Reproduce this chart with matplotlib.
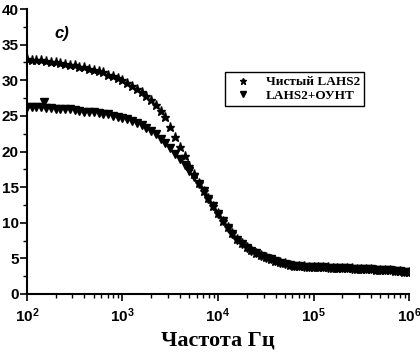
import numpy as np
import matplotlib.pyplot as plt
from matplotlib.ticker import LogLocator, MultipleLocator, NullFormatter

# measurement sweep: 81 log-spaced frequencies, 10^2 .. 10^6 Hz
freq = np.logspace(2, 6, 81)

# permittivity, pure LAHS2
eps_pure = [33.0, 32.9, 32.9, 32.8, 32.7, 32.6, 32.5, 32.4, 32.3, 32.2,
            32.1, 31.9, 31.8, 31.6, 31.5, 31.3, 31.1, 30.8, 30.6, 30.3,
            30.0, 29.6, 29.2, 28.8, 28.3, 27.8, 27.2, 26.5, 25.7, 24.8,
            23.5, 22.1, 20.7, 19.3, 18.0, 16.8, 15.6, 14.5, 13.5, 12.4,
            11.3, 10.3, 9.4, 8.5, 7.7, 7.1, 6.6, 6.2, 5.8, 5.5,
            5.2, 4.9, 4.7, 4.5, 4.3, 4.1, 4.0, 3.95, 3.9, 3.85,
            3.8, 3.8, 3.75, 3.75, 3.7, 3.7, 3.65, 3.6, 3.6, 3.55,
            3.5, 3.5, 3.45, 3.4, 3.4, 3.35, 3.3, 3.25, 3.2, 3.15, 3.1]

# permittivity, LAHS2 + nanotubes
eps_cnt = [26.3, 26.3, 26.2, 26.2, 26.1, 26.1, 26.0, 26.0, 25.9, 25.9,
           25.8, 25.7, 25.6, 25.6, 25.5, 25.4, 25.3, 25.2, 25.0, 24.9,
           24.7, 24.5, 24.3, 24.0, 23.7, 23.3, 22.9, 22.4, 21.8, 21.2,
           20.5, 19.7, 18.9, 18.1, 17.3, 16.4, 15.5, 14.5, 13.4, 12.3,
           11.2, 10.2, 9.3, 8.4, 7.6, 7.0, 6.5, 6.1, 5.7, 5.4,
           5.1, 4.9, 4.6, 4.4, 4.2, 4.1, 4.0, 3.9, 3.85, 3.8,
           3.8, 3.75, 3.75, 3.7, 3.7, 3.65, 3.65, 3.6, 3.55, 3.55,
           3.5, 3.45, 3.45, 3.4, 3.35, 3.3, 3.3, 3.25, 3.2, 3.15, 3.1]

# single stray point of the second series
stray_f = [150]
stray_eps = [26.9]

fig = plt.figure(figsize=(4.2, 3.54), dpi=100)
ax = fig.add_axes([0.064, 0.1695, 0.910, 0.805])

ax.plot(freq, eps_pure, ls='none', marker='*', ms=6.5, color='black',
        label='Чистый LAHS2')
ax.plot(freq, eps_cnt, ls='none', marker='v', ms=5.2, color='black',
        label='LAHS2+ОУНТ')
ax.plot(stray_f, stray_eps, ls='none', marker='v', ms=6, color='black')

ax.set_xscale('log')
ax.set_xlim(100, 1e6)
ax.set_ylim(0, 40)

ax.spines['top'].set_visible(False)
ax.spines['right'].set_visible(False)
ax.spines['left'].set_linewidth(1.5)
ax.spines['bottom'].set_linewidth(1.5)

ax.yaxis.set_major_locator(MultipleLocator(5))
ax.yaxis.set_minor_locator(MultipleLocator(2.5))
ax.xaxis.set_major_locator(LogLocator(base=10, numticks=10))
ax.xaxis.set_minor_locator(LogLocator(base=10, subs=np.arange(2, 10), numticks=20))
ax.xaxis.set_minor_formatter(NullFormatter())
ax.tick_params(which='major', direction='out', length=5, width=1.2)
ax.tick_params(which='minor', direction='out', length=3, width=1)

for lab in ax.get_xticklabels() + ax.get_yticklabels():
    lab.set_fontfamily('Liberation Sans')
    lab.set_fontweight('bold')
    lab.set_fontsize(11)
ax.tick_params(axis='x', pad=4)
ax.tick_params(axis='y', pad=1)

ax.set_xlabel('Частота Гц', fontfamily='Liberation Serif', fontweight='bold',
              fontsize=16, labelpad=4)

ax.text(0.073, 0.915, 'c)', transform=ax.transAxes, fontfamily='Liberation Sans',
        fontweight='bold', fontstyle='italic', fontsize=12, va='center')

leg = ax.legend(loc='upper left', bbox_to_anchor=(0.518, 0.779), frameon=True,
                fancybox=False, edgecolor='black', framealpha=1,
                prop={'family': 'Liberation Serif', 'weight': 'bold', 'size': 9.5},
                handletextpad=0.6, borderpad=0.3, labelspacing=0.1,
                handlelength=2.2, borderaxespad=0, markerscale=0.7)
leg.get_frame().set_linewidth(1)

fig.savefig('out.png', dpi=100)
